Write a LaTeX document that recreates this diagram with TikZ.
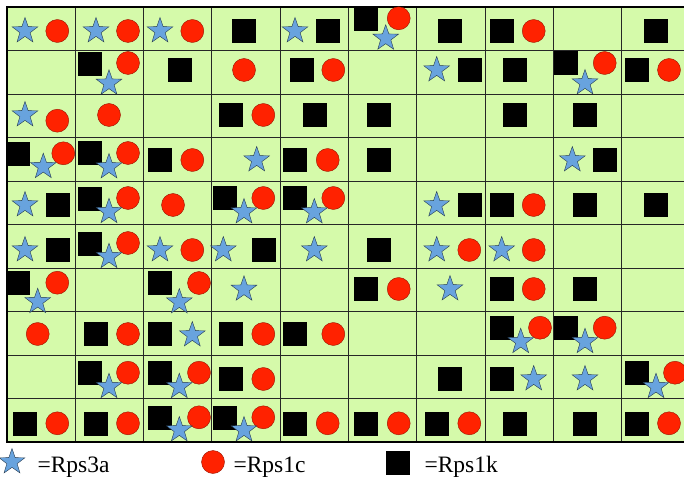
\documentclass[tikz,border=0pt]{standalone}
\usepackage{fontspec}
\setmainfont{Liberation Serif}
\usepackage{tikz}
\usetikzlibrary{
  positioning,
  shapes.geometric
}
\definecolor{CellGreen}{RGB}{213,250,170}
\definecolor{StarBlue}{RGB}{104,163,222}
\definecolor{DotRed}{RGB}{255,34,0}

\begin{document}
\begin{tikzpicture}[x=1pt,y=-1pt,
  rkmark/.style={draw=black,fill=black,rectangle,minimum size=23pt,inner sep=0pt},
  rcmark/.style={draw=DotRed!60!black,fill=DotRed,circle,minimum size=23pt,inner sep=0pt,thin},
  rsmark/.style={draw=StarBlue!35!black,fill=StarBlue,star,star points=5,star point ratio=2.5,minimum size=27pt,inner sep=0pt,thin},
  keytext/.style={anchor=base west,font=\fontsize{23.5}{28}\selectfont}]
  \useasboundingbox (0,0) rectangle (684,478);
  \clip (0,0) rectangle (684,478);

  % ---------- 网格 ----------
  \fill[CellGreen] (7,7) rectangle (690,442);
  \foreach \i in {1,...,9}
    \draw[black!85, line width=0.9pt] (7+68.3*\i,7) -- (7+68.3*\i,442);
  \foreach \j in {1,...,9}
    \draw[black!85, line width=0.9pt] (7,7+43.5*\j) -- (690,7+43.5*\j);
  \draw[line width=2pt] (7,7) rectangle (690,442);

  % 各格中的 R 基因
  \def\rkList{%
      244/31,327.7/31,366/18.3,450/31,501.7/31,656/31,%
      89.3/63.3,180/69.3,301.7/70,469.3/70,514.3/70,565.7/63,636.7/70,%
      231/115,314.3/115,379/115,514.3/115,585/115,%
      18/153.3,89.3/153,160/160,295/160,379/160,604.3/160,%
      57.3/205,89.3/198.3,225/198,295/198,469.3/205,501.7/205,585/205,656/205,%
      57.3/250,89.3/243.3,263.3/250,379/250,%
      18/282.7,160/283,366/289,501.7/289,585/289,%
      96/334,160/334,231/334,295/334,501.7/327.7,565.7/327.7,%
      89.3/372.7,160/372.7,231/379,450/379,501.7/379,636.7/372.7,%
      25/423.3,96/423.3,160/417.3,225/417.3,295/423.3,366/423.3,436.7/423.3,%
      514.3/423.3,585/423.3,636.7/423.3}
  \def\rcList{%
      57.3/31,128/31,192.3/31,398.7/18.3,533.7/31,%
      128/63,244/70,333.3/70,604.7/63,669/70,%
      57.3/120.7,109/115,263.3/115,%
      63.3/153.3,128/153,192.3/160,327.7/160,%
      128/198,173/205,263.3/198,333.3/198,533.7/205,%
      128/243,192.3/250,469.3/250,533.7/250,%
      57.3/282.7,199/283,398.7/289,533.7/289,%
      37.7/334,128/334,263.3/334,333.3/334,540/327.7,604.7/327.7,%
      128/372.7,199/372.7,263.3/379,675/372.7,%
      57.3/423.3,128/423.3,199/417.3,263.3/417.3,327.7/423.3,398.7/423.3,%
      469.3/423.3,669/423.3}
  \def\rsList{%
      25/31,96/31,160/31,295/31,385.7/38.3,%
      109/83.3,436.7/70,585/83,%
      25/115,%
      43.3/166.7,109/167,256.7/160,572.3/160,%
      25/205,109/211.7,244/212,314.3/212,436.7/205,%
      25/250,109/256.7,160/250,223.3/250,314.3/250,436.7/250,501.7/250,%
      37.7/301.7,179.3/302,244/289.3,450/289,%
      192.3/335,520.7/341.7,585/341.7,%
      109/386.7,179.3/386.7,533.7/379,585/379,656/386.7,%
      179.3/430,244/430}

  \foreach \x/\y [count=\i] in \rkList
    \node[rkmark] (rk-\i) at (\x,\y) {};
  \foreach \x/\y [count=\i] in \rcList
    \node[rcmark] (rc-\i) at (\x,\y) {};
  \foreach \x/\y [count=\i] in \rsList
    \node[rsmark] (rs-\i) at (\x,\y) {};

  % 图例
  \node[rsmark] (key-rs) at (12,462) {};
  \node[keytext] (key-rps3a) at (34,472) {=Rps3a};
  \node[rcmark] (key-rc) at (213,462) {};
  \node[keytext] (key-rps1c) at (230,472) {=Rps1c};
  \node[rkmark] (key-rk) at (398,463) {};
  \node[keytext] (key-rps1k) at (421,472) {=Rps1k};
\end{tikzpicture}
\end{document}
